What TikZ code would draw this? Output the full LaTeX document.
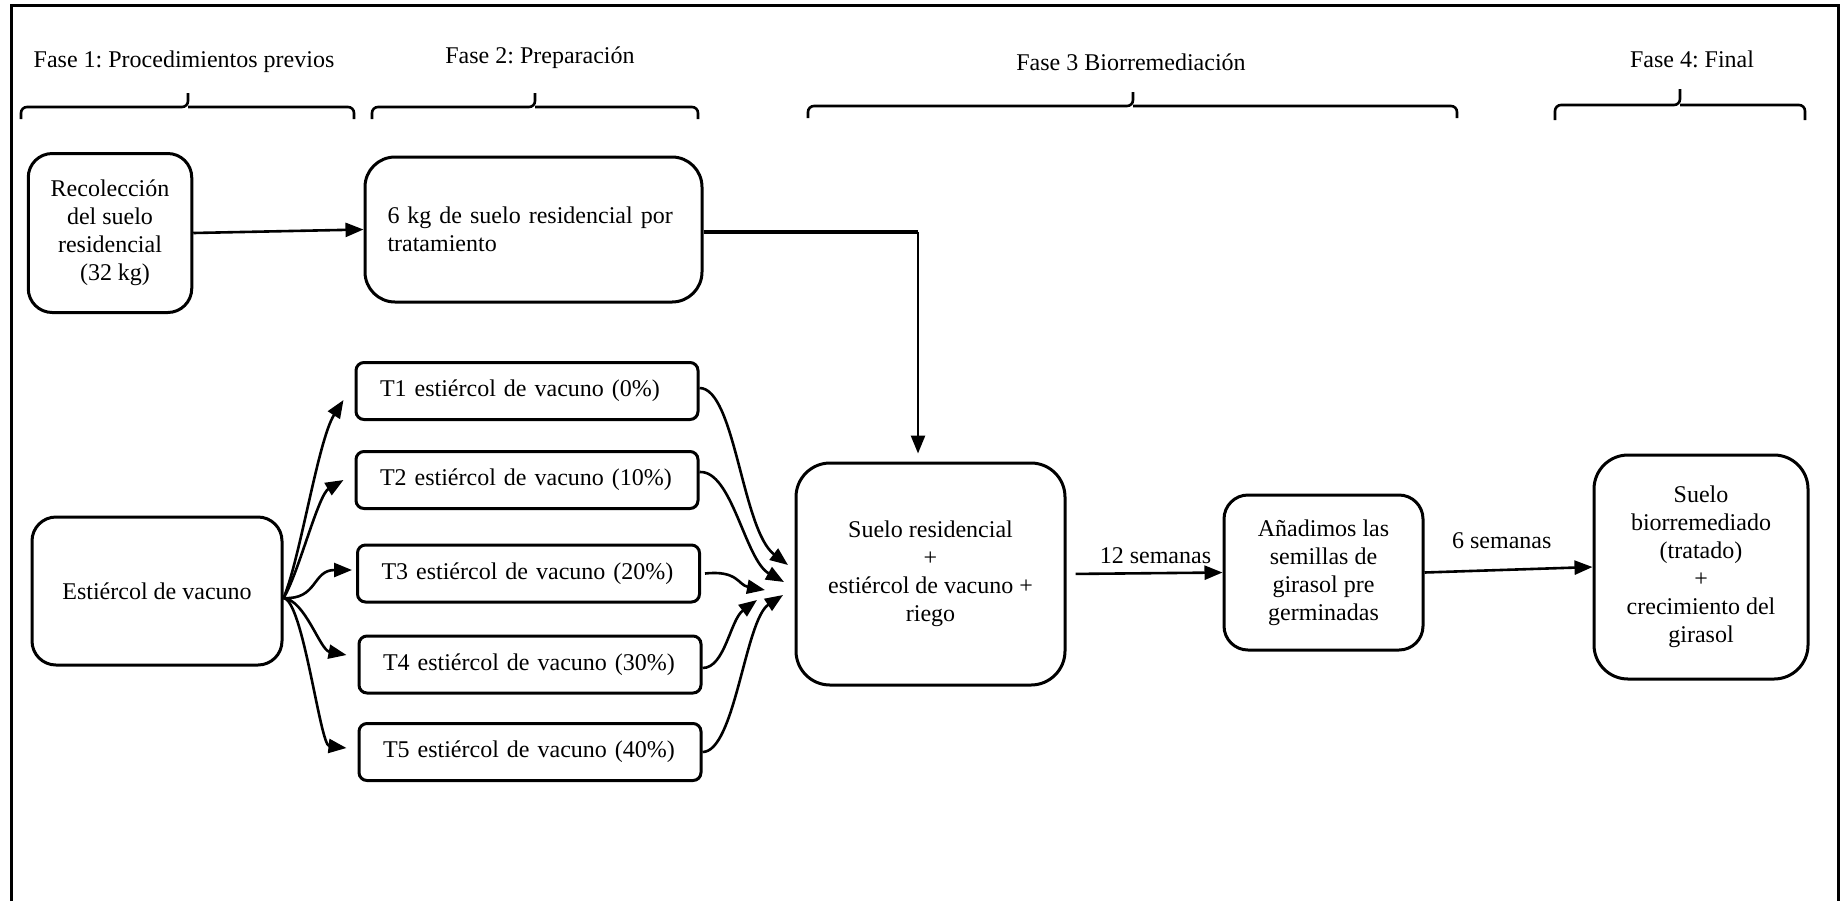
\documentclass[tikz,border=0pt]{standalone}
\usepackage{fontspec}
\setmainfont{Liberation Serif}
\usetikzlibrary{arrows.meta}
\begin{document}
\begin{tikzpicture}[x=0.5pt,y=-0.5pt,
  txt/.style={font=\fontsize{12}{14}\selectfont\frenchspacing},
  box/.style={txt, draw, line width=1.5pt, align=center, inner sep=0pt},
  tbox/.style={txt, draw, line width=1.5pt, rounded corners=4pt, align=left,
    inner xsep=12pt, inner ysep=0pt, text width=147pt, minimum height=28.5pt},
  arr/.style={line width=1.3pt, -{Triangle[length=9pt,width=7pt]}},
  bracepath/.style={line width=1.3pt, rounded corners=3pt},
  lbl/.style={txt, inner sep=0pt}]

\useasboundingbox (0,0) rectangle (1841,901);
\draw[line width=1.5pt] (11,901) -- (11,5) -- (1838,5) -- (1838,901);

% phase titles
\node[lbl] (f1) at (184,62) {Fase 1: Procedimientos previos};
\node[lbl] (f2) at (540,58) {Fase 2: Preparación};
\node[lbl] (f3) at (1131,62) {Fase 3 Biorremediación};
\node[lbl] (f4) at (1692,59) {Fase 4: Final};

% braces
\draw[bracepath] (21,119) |- (188,107) -- (188,93);
\draw[bracepath] (188,107) -| (354,119);
\draw[bracepath] (372,119) |- (535,107) -- (535,93);
\draw[bracepath] (535,107) -| (698,119);
\draw[bracepath] (808,118) |- (1133,106) -- (1133,92);
\draw[bracepath] (1133,106) -| (1457,118);
\draw[bracepath] (1555,120) |- (1680,105) -- (1680,89);
\draw[bracepath] (1680,105) -| (1805,120);

% boxes
\node[box, rounded corners=12pt, minimum width=81.75pt, minimum height=79.5pt] (rec) at (110,233)
  {Recolección\\del suelo\\residencial\\\hspace*{5pt}(32 kg)};
\node[box, rounded corners=15pt, align=left, text width=146pt, inner xsep=11.25pt, minimum height=72.5pt] (prep) at (533.5,229.5)
  {6 kg de suelo residencial por\\tratamiento};
\node[box, rounded corners=12pt, minimum width=125pt, minimum height=74pt] (est) at (157,591)
  {Estiércol de vacuno};

\node[tbox] (T1) at (527,391) {T1 estiércol de vacuno (0\%)};
\node[tbox] (T2) at (527,480) {T2 estiércol de vacuno (10\%)};
\node[tbox] (T3) at (528.5,573.5) {T3 estiércol de vacuno (20\%)};
\node[tbox] (T4) at (530,664.5) {T4 estiércol de vacuno (30\%)};
\node[tbox] (T5) at (530,752) {T5 estiércol de vacuno (40\%)};

\node[box, rounded corners=17pt, minimum width=134.5pt, minimum height=111pt] (S) at (930.5,574)
  {Suelo residencial\\+\\estiércol de vacuno +\\riego};
\node[box, rounded corners=12pt, minimum width=99.5pt, minimum height=77.5pt] (A) at (1323.5,572.5)
  {Añadimos las\\semillas de\\girasol pre\\germinadas};
\node[box, rounded corners=17pt, minimum width=107pt, minimum height=112pt] (B) at (1701,567)
  {Suelo\\biorremediado\\(tratado)\\+\\crecimiento del\\girasol};

% connectors
\draw[arr] (rec.east) -- (prep.west);
\coordinate (c1) at (918,232);
\draw[line width=2pt] (prep.east |- c1) -- (c1);
\draw[arr, shorten >=4pt] (c1) -- (c1 |- S.north);

\draw[arr] ([yshift=-3.5pt]est.east) .. controls (300,560) and (318,440) .. ([xshift=-5.5pt,yshift=-4.5pt]T1.west);
\draw[arr] ([yshift=-3.5pt]est.east) .. controls (298,575) and (318,495) .. ([xshift=-5.5pt]T2.west);
\draw[arr] ([yshift=-3.5pt]est.east) .. controls (318,600) and (312,570) .. ([xshift=-2pt,yshift=1.75pt]T3.west);
\draw[arr] ([yshift=-3.5pt]est.east) .. controls (305,600) and (320,650) .. ([xshift=-5.5pt,yshift=4.75pt]T4.west);
\draw[arr] ([yshift=-3.5pt]est.east) .. controls (303,600) and (320,745) .. ([xshift=-5.5pt,yshift=2pt]T5.west);

\coordinate (s1) at (788,565);
\coordinate (s2) at (784,582);
\coordinate (s3) at (765,590);
\coordinate (s4) at (757,600);
\coordinate (s5) at (783,595);
\draw[arr] ([yshift=1.5pt]T1.east) .. controls (735,388) and (742,530) .. (s1);
\draw[arr] ([yshift=4pt]T2.east) .. controls (732,470) and (745,560) .. (s2);
\draw[arr] ([xshift=2pt]T3.east) .. controls (738,570) and (738,585) .. (s3);
\draw[arr] ([yshift=-1.75pt]T4.east) .. controls (725,668) and (730,620) .. (s4);
\draw[arr] (T5.east) .. controls (735,752) and (745,620) .. (s5);

\draw[arr, shorten <=4.5pt] (S.east) -- node[lbl, pos=0.57, yshift=8.5pt] {12 semanas} (A.west);
\draw[arr] (A.east) -- node[lbl, pos=0.46, yshift=14.5pt] {6 semanas} (B.west);
\end{tikzpicture}
\end{document}
